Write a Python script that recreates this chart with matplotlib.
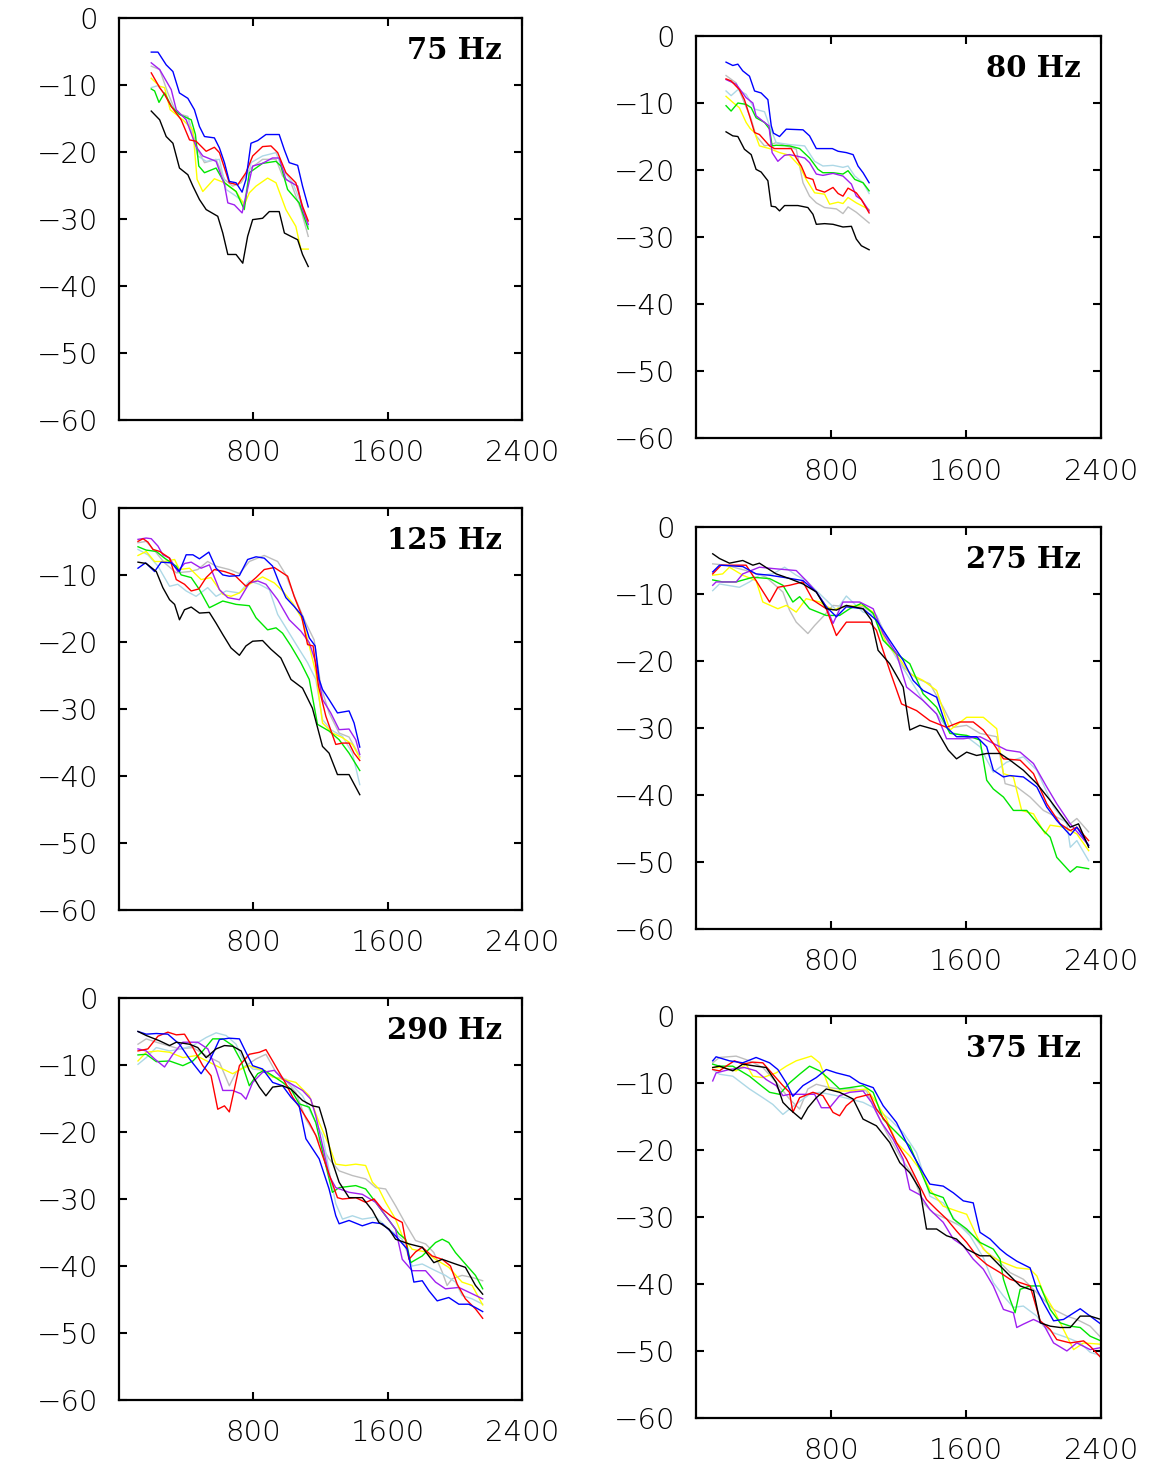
import matplotlib
matplotlib.use("Agg")
import matplotlib.pyplot as plt

# colour of each run
line_colors = {
    "gray": "#bebebe",
    "lightblue": "#add8e6",
    "yellow": "#ffff00",
    "green": "#00e600",
    "purple": "#a020f0",
    "red": "#ff0000",
    "blue": "#0000ff",
    "black": "#000000",
}

# each panel: colour -> (frequency values, level in dB)
hz75 = {
    "blue": ([192, 232, 281, 321, 360, 410, 449, 479, 509, 568, 598, 628, 657, 697, 733, 756, 786, 826, 875, 954, 985, 1014, 1064, 1093, 1127],
             [-5.1, -5.1, -7.0, -8.0, -11.2, -12.0, -13.7, -16.2, -17.7, -17.9, -19.4, -21.6, -24.4, -24.6, -26.0, -24.1, -18.7, -18.3, -17.4, -17.4, -19.7, -21.6, -22.0, -25.1, -28.2]),
    "red": ([192, 242, 271, 311, 370, 420, 459, 519, 568, 598, 657, 707, 756, 796, 855, 905, 945, 994, 1053, 1093, 1127],
            [-8.2, -10.4, -11.4, -13.2, -15.2, -18.2, -18.4, -19.9, -19.3, -20.1, -24.6, -24.9, -23.1, -20.6, -19.2, -19.1, -20.1, -23.1, -24.6, -28.1, -30.3]),
    "purple": ([192, 242, 311, 341, 400, 459, 499, 578, 628, 648, 687, 733, 756, 796, 855, 914, 954, 994, 1064, 1093, 1127],
               [-6.7, -7.7, -10.7, -13.7, -15.2, -19.2, -20.6, -21.4, -24.9, -27.6, -27.9, -29.1, -26.6, -22.1, -21.7, -20.9, -20.9, -24.1, -25.1, -28.6, -30.8]),
    "green": ([192, 212, 238, 271, 311, 360, 430, 455, 475, 509, 578, 628, 697, 746, 776, 855, 935, 964, 1004, 1073, 1127],
              [-10.6, -10.9, -12.6, -11.2, -13.2, -14.4, -15.2, -17.4, -22.1, -23.1, -22.4, -24.6, -25.9, -28.6, -23.1, -21.7, -21.4, -22.1, -25.6, -27.6, -31.5]),
    "yellow": ([192, 242, 271, 305, 380, 440, 465, 499, 568, 628, 697, 746, 776, 816, 885, 935, 994, 1053, 1083, 1127],
               [-9.0, -10.2, -10.4, -13.7, -15.2, -16.7, -24.1, -25.9, -24.0, -24.6, -25.9, -27.9, -26.1, -25.1, -23.9, -24.6, -28.6, -31.1, -34.5, -34.5]),
    "gray": ([192, 242, 291, 341, 410, 469, 509, 578, 628, 677, 727, 776, 855, 935, 974, 1024, 1083, 1127],
             [-7.2, -7.7, -11.2, -14.2, -14.7, -19.7, -21.6, -21.1, -24.1, -25.1, -24.6, -22.6, -21.1, -21.1, -23.6, -24.6, -28.6, -32.6]),
    "lightblue": ([192, 232, 281, 341, 410, 469, 519, 598, 638, 697, 746, 786, 855, 935, 974, 1034, 1083, 1127],
                  [-10.4, -10.1, -11.7, -14.2, -14.9, -20.6, -21.4, -21.1, -25.6, -26.6, -27.6, -21.6, -20.6, -20.1, -22.6, -24.6, -27.6, -31.1]),
    "black": ([192, 242, 281, 321, 360, 410, 440, 479, 519, 588, 618, 648, 697, 737, 766, 796, 855, 895, 954, 985, 1024, 1064, 1093, 1127],
              [-13.9, -15.2, -17.7, -18.7, -22.4, -23.4, -25.1, -27.1, -28.6, -29.6, -32.1, -35.3, -35.3, -36.6, -32.6, -30.1, -29.9, -28.9, -28.9, -32.1, -32.6, -33.1, -35.3, -37.1]),
}

hz80 = {
    "blue": ([178, 218, 248, 277, 317, 347, 386, 426, 446, 459, 495, 535, 634, 673, 713, 772, 808, 842, 891, 931, 960, 990, 1026],
             [-3.9, -4.4, -4.2, -5.2, -6.0, -8.2, -8.5, -9.5, -13.4, -14.5, -15.0, -13.9, -14.0, -14.9, -16.8, -16.8, -16.8, -17.2, -17.4, -17.7, -19.4, -20.4, -21.9]),
    "red": ([178, 208, 257, 287, 317, 347, 376, 436, 465, 564, 594, 624, 653, 693, 713, 762, 812, 842, 871, 901, 950, 980, 1026],
            [-6.4, -6.7, -8.0, -9.5, -11.9, -14.4, -14.7, -16.4, -16.8, -16.8, -18.2, -19.4, -21.1, -21.4, -22.9, -23.3, -22.6, -23.5, -23.9, -22.7, -23.4, -24.4, -26.4]),
    "purple": ([178, 238, 297, 337, 356, 396, 432, 451, 485, 525, 554, 594, 644, 673, 713, 752, 812, 871, 921, 950, 980, 1026],
               [-6.5, -7.2, -9.2, -10.0, -11.9, -12.7, -13.4, -17.4, -18.7, -17.8, -17.7, -17.9, -18.2, -18.9, -20.6, -20.8, -20.5, -20.9, -22.1, -23.9, -24.4, -26.1]),
    "green": ([178, 208, 248, 297, 327, 356, 406, 436, 451, 475, 554, 614, 673, 723, 752, 812, 871, 901, 941, 990, 1026],
              [-10.4, -11.2, -10.0, -10.2, -10.7, -12.2, -12.9, -13.9, -16.4, -16.3, -16.4, -16.8, -18.2, -19.9, -20.4, -20.4, -20.6, -20.1, -21.4, -21.9, -23.1]),
    "yellow": ([178, 218, 257, 297, 321, 347, 376, 436, 495, 554, 614, 653, 703, 762, 792, 842, 871, 901, 950, 1026],
               [-9.0, -9.9, -10.7, -12.9, -13.8, -14.4, -16.4, -16.8, -17.4, -17.8, -19.4, -21.4, -23.4, -23.6, -25.1, -24.8, -25.0, -24.1, -24.9, -25.9]),
    "gray": ([178, 238, 287, 327, 356, 406, 446, 475, 535, 594, 634, 673, 713, 762, 832, 871, 901, 950, 1026],
             [-5.9, -7.0, -10.0, -12.4, -14.9, -16.4, -16.2, -15.9, -16.4, -16.9, -21.9, -23.9, -24.9, -25.6, -25.8, -26.5, -25.5, -26.3, -27.9]),
    "lightblue": ([178, 208, 248, 297, 347, 406, 436, 475, 554, 644, 703, 752, 812, 871, 901, 941, 990, 1026],
                  [-8.2, -8.9, -8.0, -8.7, -10.9, -11.3, -13.4, -15.9, -16.2, -16.4, -18.7, -19.4, -19.3, -19.6, -19.4, -20.9, -21.9, -23.5]),
    "black": ([178, 218, 248, 287, 327, 356, 386, 426, 446, 471, 495, 525, 604, 663, 693, 713, 762, 812, 871, 921, 950, 980, 1026],
              [-14.3, -14.9, -15.0, -16.9, -17.7, -19.9, -20.3, -21.6, -25.4, -25.5, -26.1, -25.3, -25.3, -25.6, -26.6, -28.1, -28.0, -28.1, -28.5, -28.4, -30.3, -31.3, -31.9]),
}

hz125 = {
    "blue": ([113, 158, 212, 251, 311, 360, 400, 440, 479, 535, 578, 618, 657, 717, 766, 816, 865, 915, 954, 994, 1043, 1093, 1133, 1168, 1192, 1212, 1251, 1301, 1370, 1400, 1434],
             [-9.0, -8.2, -9.5, -8.1, -8.2, -9.5, -7.0, -7.0, -7.6, -6.6, -9.0, -10.0, -10.2, -10.1, -7.7, -7.3, -7.5, -8.7, -11.2, -13.4, -14.7, -16.2, -19.4, -20.6, -25.6, -27.1, -28.6, -30.6, -30.3, -32.1, -35.7]),
    "red": ([113, 143, 172, 202, 242, 301, 341, 390, 430, 475, 519, 568, 628, 687, 756, 816, 865, 925, 1004, 1043, 1083, 1123, 1156, 1188, 1232, 1291, 1331, 1370, 1400, 1434],
            [-5.0, -4.6, -5.1, -6.2, -6.5, -7.5, -10.7, -11.4, -12.4, -12.1, -10.4, -9.2, -9.5, -10.0, -11.7, -10.4, -9.2, -8.9, -10.2, -13.2, -15.7, -20.4, -20.6, -26.6, -31.1, -35.3, -35.1, -35.1, -36.6, -37.7]),
    "purple": ([113, 162, 192, 232, 261, 301, 350, 390, 430, 489, 538, 598, 648, 717, 776, 826, 875, 945, 1014, 1083, 1133, 1172, 1212, 1261, 1311, 1370, 1410, 1434],
               [-4.7, -4.5, -4.6, -5.7, -7.0, -7.5, -9.5, -8.3, -8.1, -9.0, -8.5, -12.2, -13.4, -13.7, -11.2, -10.9, -11.4, -13.7, -16.7, -18.4, -20.1, -23.1, -28.6, -30.6, -33.1, -33.0, -34.6, -36.8]),
    "green": ([113, 162, 222, 271, 341, 370, 430, 479, 538, 618, 697, 776, 816, 885, 935, 974, 1024, 1083, 1133, 1182, 1251, 1311, 1370, 1434],
              [-5.8, -6.3, -6.5, -7.5, -8.7, -10.0, -10.4, -12.2, -14.9, -13.9, -14.4, -14.6, -16.4, -18.2, -17.9, -18.7, -20.6, -23.1, -25.6, -32.3, -33.3, -34.6, -36.6, -39.2]),
    "yellow": ([113, 162, 212, 271, 331, 360, 420, 489, 548, 618, 667, 717, 776, 855, 925, 974, 1034, 1093, 1133, 1172, 1212, 1271, 1331, 1390, 1434],
               [-7.1, -6.5, -8.0, -8.0, -7.7, -9.2, -9.0, -10.7, -10.4, -12.9, -13.2, -12.7, -11.4, -10.3, -11.2, -12.4, -14.2, -16.7, -20.6, -24.6, -32.1, -33.6, -34.3, -35.3, -37.3]),
    "gray": ([113, 162, 222, 271, 341, 420, 469, 528, 578, 657, 717, 776, 865, 945, 994, 1053, 1113, 1162, 1202, 1251, 1311, 1370, 1434],
             [-5.2, -5.0, -6.7, -8.2, -9.7, -9.5, -9.2, -8.0, -8.7, -9.2, -9.8, -8.0, -7.1, -8.0, -10.0, -13.7, -17.2, -19.7, -26.6, -30.6, -33.6, -34.2, -37.1]),
    "lightblue": ([113, 172, 232, 301, 350, 400, 459, 528, 578, 638, 717, 776, 836, 895, 945, 1014, 1073, 1123, 1172, 1212, 1261, 1331, 1390, 1434],
                  [-6.2, -7.0, -8.7, -11.7, -11.4, -12.4, -13.2, -11.9, -13.2, -12.4, -12.7, -10.9, -11.4, -12.2, -15.9, -18.7, -21.1, -23.1, -25.6, -31.6, -33.1, -34.1, -36.6, -41.3]),
    "black": ([113, 162, 222, 261, 301, 331, 360, 390, 430, 479, 538, 578, 618, 667, 717, 756, 796, 855, 905, 964, 1024, 1093, 1152, 1212, 1251, 1301, 1370, 1434],
              [-8.1, -8.3, -9.5, -11.9, -13.7, -14.4, -16.7, -15.2, -14.8, -15.7, -15.6, -17.2, -18.9, -20.9, -22.0, -20.6, -19.9, -19.8, -21.1, -22.4, -25.6, -26.9, -29.9, -35.6, -36.6, -39.8, -39.8, -42.8]),
}

hz275 = {
    "blue": ([99, 139, 277, 356, 436, 515, 634, 713, 772, 832, 891, 990, 1069, 1148, 1228, 1287, 1346, 1426, 1485, 1544, 1663, 1723, 1762, 1822, 1861, 1940, 2020, 2079, 2138, 2218, 2257, 2327],
             [-6.7, -5.7, -5.9, -7.0, -7.2, -7.5, -8.0, -9.7, -11.9, -13.4, -11.9, -12.2, -13.9, -16.9, -19.9, -22.9, -24.4, -25.4, -29.9, -31.3, -31.3, -32.8, -36.3, -37.3, -37.1, -37.3, -38.8, -41.8, -43.8, -46.0, -44.8, -47.5]),
    "red": ([99, 149, 297, 356, 436, 485, 554, 634, 693, 772, 832, 891, 1030, 1069, 1148, 1218, 1307, 1386, 1485, 1564, 1643, 1703, 1762, 1822, 1921, 2000, 2079, 2158, 2218, 2257, 2327],
            [-7.0, -5.7, -5.7, -8.0, -11.2, -9.0, -8.7, -8.2, -10.9, -12.2, -16.2, -14.2, -14.2, -15.4, -21.4, -26.4, -27.4, -28.9, -29.9, -29.1, -29.1, -30.3, -32.3, -34.6, -34.8, -36.8, -41.3, -44.3, -45.3, -44.8, -46.8]),
    "purple": ([99, 119, 238, 277, 376, 455, 594, 653, 713, 772, 812, 871, 970, 1050, 1109, 1188, 1248, 1346, 1426, 1485, 1584, 1683, 1762, 1841, 1921, 2000, 2079, 2138, 2218, 2327],
               [-8.7, -8.2, -8.2, -7.0, -6.0, -6.2, -6.5, -8.0, -9.7, -11.9, -14.4, -11.2, -11.2, -12.2, -15.9, -18.9, -23.9, -25.9, -27.9, -31.6, -31.6, -31.3, -32.3, -33.3, -33.6, -35.3, -38.8, -41.3, -44.3, -47.5]),
    "green": ([99, 158, 238, 337, 436, 515, 574, 614, 673, 772, 851, 911, 980, 1050, 1109, 1188, 1267, 1346, 1426, 1505, 1604, 1683, 1723, 1762, 1822, 1881, 1960, 2059, 2099, 2138, 2218, 2257, 2327],
              [-7.9, -8.2, -8.2, -7.5, -7.7, -8.7, -11.2, -10.4, -12.2, -13.2, -13.2, -12.2, -11.4, -12.9, -16.9, -18.9, -20.4, -24.9, -26.9, -30.8, -31.1, -31.8, -37.8, -39.1, -40.3, -42.3, -42.3, -45.3, -46.3, -49.3, -51.5, -50.7, -51.0]),
    "yellow": ([99, 158, 198, 277, 356, 396, 485, 535, 594, 653, 733, 812, 871, 990, 1050, 1129, 1208, 1267, 1346, 1426, 1505, 1604, 1703, 1782, 1822, 1881, 1930, 2000, 2069, 2099, 2178, 2257, 2327],
               [-7.2, -7.0, -6.0, -7.2, -8.0, -11.2, -12.2, -11.7, -12.7, -10.7, -11.2, -12.4, -11.9, -11.7, -12.7, -17.4, -19.7, -21.9, -22.9, -24.4, -30.3, -28.4, -28.4, -30.1, -36.8, -37.3, -42.3, -42.8, -45.8, -44.5, -44.8, -45.8, -48.3]),
    "gray": ([99, 178, 297, 416, 515, 554, 594, 663, 703, 752, 812, 891, 990, 1069, 1148, 1228, 1307, 1386, 1465, 1525, 1604, 1683, 1782, 1832, 1901, 1980, 2059, 2138, 2218, 2257, 2327],
             [-5.5, -5.7, -6.5, -7.5, -9.7, -12.4, -14.2, -15.9, -14.7, -13.4, -11.7, -11.9, -11.9, -13.2, -17.4, -20.9, -22.6, -23.4, -26.9, -29.9, -29.6, -30.8, -31.3, -38.3, -38.8, -40.3, -42.3, -43.3, -44.3, -43.5, -45.5]),
    "lightblue": ([99, 139, 257, 317, 376, 455, 525, 594, 653, 713, 792, 832, 891, 990, 1069, 1148, 1248, 1346, 1426, 1505, 1604, 1683, 1762, 1841, 1940, 2020, 2119, 2198, 2218, 2257, 2327],
                  [-9.5, -8.5, -9.0, -8.2, -7.2, -7.0, -6.0, -7.2, -8.0, -9.5, -11.4, -12.4, -10.3, -12.7, -13.2, -17.9, -21.9, -25.9, -27.9, -30.6, -31.3, -32.8, -36.6, -35.1, -34.3, -36.3, -41.8, -44.3, -47.8, -46.8, -49.8]),
    "black": ([99, 139, 198, 277, 337, 376, 475, 554, 634, 713, 772, 832, 891, 990, 1040, 1079, 1148, 1228, 1267, 1327, 1426, 1495, 1544, 1604, 1663, 1723, 1802, 1861, 1940, 2020, 2099, 2158, 2218, 2267, 2327],
              [-4.0, -4.7, -5.4, -5.0, -5.7, -5.4, -7.0, -7.7, -8.5, -9.7, -12.2, -12.4, -11.7, -12.2, -13.9, -18.4, -20.4, -23.9, -30.3, -29.6, -30.3, -33.3, -34.6, -33.6, -34.1, -33.8, -33.8, -34.8, -36.3, -38.3, -40.8, -42.8, -44.8, -44.3, -47.8]),
}

hz290 = {
    "blue": ([113, 162, 222, 291, 360, 420, 489, 539, 598, 657, 717, 756, 796, 855, 915, 974, 1024, 1073, 1113, 1192, 1251, 1291, 1311, 1370, 1449, 1509, 1568, 1647, 1717, 1756, 1806, 1846, 1895, 1964, 2024, 2083, 2123, 2166],
             [-5.0, -5.4, -5.3, -5.4, -6.9, -9.1, -11.3, -9.4, -6.2, -6.0, -6.1, -8.1, -10.1, -10.6, -12.6, -13.1, -14.8, -16.1, -21.0, -24.0, -28.5, -32.5, -33.7, -33.2, -34.0, -33.5, -33.7, -35.5, -37.5, -42.4, -42.2, -43.7, -45.2, -44.7, -45.7, -45.7, -46.2, -46.8]),
    "red": ([113, 172, 232, 291, 341, 390, 440, 499, 548, 588, 628, 657, 687, 717, 776, 836, 875, 915, 954, 994, 1034, 1083, 1133, 1172, 1212, 1261, 1301, 1331, 1410, 1469, 1519, 1568, 1628, 1687, 1727, 1766, 1806, 1865, 1925, 1974, 2014, 2063, 2123, 2166],
            [-7.9, -7.6, -5.7, -5.1, -5.5, -5.4, -7.4, -10.1, -11.6, -16.6, -16.1, -17.0, -13.6, -10.1, -8.4, -8.1, -7.7, -9.4, -11.1, -12.8, -14.8, -16.6, -18.6, -20.5, -23.5, -27.0, -29.8, -30.0, -29.8, -30.5, -30.0, -31.5, -32.7, -33.5, -39.0, -37.9, -37.2, -38.5, -39.0, -40.0, -42.7, -44.9, -46.4, -47.8]),
    "purple": ([113, 162, 212, 271, 321, 380, 469, 529, 578, 618, 677, 727, 756, 796, 855, 925, 974, 1024, 1093, 1142, 1172, 1212, 1251, 1291, 1370, 1449, 1529, 1588, 1647, 1687, 1746, 1826, 1885, 1944, 2024, 2083, 2166],
               [-7.6, -7.9, -9.1, -10.3, -8.4, -6.6, -6.6, -7.6, -10.6, -13.8, -13.8, -14.3, -15.1, -12.6, -11.1, -10.8, -12.1, -12.8, -13.8, -15.1, -17.6, -22.0, -26.5, -28.3, -29.0, -29.3, -30.5, -32.5, -34.5, -39.0, -40.7, -40.7, -42.4, -43.4, -43.2, -43.9, -44.9]),
    "green": ([113, 162, 222, 301, 380, 440, 499, 558, 618, 677, 727, 776, 826, 865, 915, 974, 1024, 1073, 1133, 1172, 1222, 1271, 1311, 1410, 1469, 1529, 1588, 1667, 1707, 1737, 1806, 1885, 1925, 1964, 2004, 2063, 2123, 2166],
              [-8.5, -8.4, -9.5, -9.4, -10.1, -9.4, -7.9, -6.1, -6.1, -7.1, -9.4, -13.1, -11.3, -10.8, -11.6, -12.6, -13.6, -15.8, -16.3, -18.6, -24.0, -29.0, -28.3, -28.0, -28.5, -30.5, -32.5, -35.2, -36.0, -39.5, -38.5, -36.5, -36.0, -36.5, -38.0, -39.7, -41.4, -43.4]),
    "yellow": ([113, 162, 232, 301, 380, 459, 539, 618, 677, 727, 776, 855, 915, 974, 1053, 1133, 1192, 1251, 1291, 1350, 1410, 1469, 1509, 1548, 1588, 1647, 1687, 1746, 1826, 1885, 1964, 2043, 2103, 2166],
               [-9.4, -8.1, -7.9, -8.1, -8.9, -8.6, -9.6, -10.6, -11.3, -10.6, -10.1, -10.8, -11.8, -12.1, -12.6, -14.6, -18.6, -22.0, -24.8, -25.0, -24.8, -25.0, -27.5, -28.5, -30.5, -33.0, -35.5, -37.5, -37.9, -39.0, -40.2, -42.4, -42.9, -45.8]),
    "gray": ([113, 162, 222, 291, 360, 440, 519, 598, 657, 697, 756, 816, 875, 935, 994, 1053, 1113, 1172, 1251, 1311, 1390, 1469, 1529, 1588, 1647, 1707, 1766, 1826, 1875, 1925, 1954, 1984, 2043, 2103, 2166],
             [-6.9, -6.1, -6.6, -7.1, -7.6, -7.4, -8.6, -9.6, -13.1, -11.1, -10.1, -9.1, -8.4, -11.1, -12.3, -14.1, -18.1, -20.5, -24.0, -25.8, -26.5, -27.0, -28.3, -28.5, -31.0, -33.7, -36.2, -36.7, -38.0, -40.9, -42.9, -41.9, -41.4, -41.7, -42.2]),
    "lightblue": ([113, 162, 222, 301, 370, 440, 519, 578, 638, 697, 737, 796, 855, 915, 994, 1034, 1093, 1152, 1212, 1261, 1291, 1331, 1390, 1449, 1529, 1608, 1687, 1746, 1806, 1885, 1944, 2004, 2043, 2103, 2166],
                  [-9.9, -8.9, -7.4, -7.9, -7.6, -7.1, -5.9, -5.2, -5.6, -6.9, -9.1, -10.6, -10.8, -11.8, -12.1, -13.1, -14.6, -17.6, -20.5, -27.0, -30.7, -33.0, -32.5, -33.0, -32.7, -34.5, -36.0, -40.0, -39.7, -40.7, -41.4, -42.4, -44.4, -44.9, -45.7]),
    "black": ([113, 162, 242, 301, 341, 420, 469, 519, 578, 628, 677, 727, 776, 836, 875, 915, 974, 1024, 1093, 1152, 1192, 1232, 1271, 1311, 1370, 1449, 1509, 1548, 1608, 1647, 1727, 1806, 1875, 1925, 2004, 2063, 2123, 2166],
              [-5.0, -5.6, -6.4, -7.1, -6.6, -6.9, -7.4, -8.9, -7.6, -7.1, -7.2, -7.9, -10.8, -13.3, -14.6, -13.3, -13.1, -13.6, -15.3, -16.1, -16.3, -19.6, -24.5, -27.5, -29.8, -29.8, -31.7, -33.5, -34.5, -36.0, -36.7, -37.2, -39.5, -39.0, -39.7, -40.2, -42.9, -44.2]),
}

hz375 = {
    "blue": ([99, 119, 198, 277, 356, 436, 485, 535, 574, 634, 713, 772, 832, 911, 970, 1050, 1109, 1188, 1267, 1346, 1386, 1465, 1525, 1584, 1643, 1683, 1743, 1802, 1841, 1901, 1980, 2020, 2059, 2119, 2178, 2277, 2336, 2400],
             [-6.7, -6.1, -6.7, -7.0, -6.2, -7.0, -8.0, -10.0, -12.0, -10.4, -9.2, -8.0, -8.5, -9.0, -10.0, -10.7, -13.4, -15.9, -19.9, -23.4, -25.1, -25.4, -26.4, -27.6, -27.9, -32.3, -33.3, -34.8, -35.6, -36.6, -37.6, -40.8, -42.8, -45.5, -45.3, -43.7, -44.8, -46.0]),
    "red": ([99, 139, 178, 228, 277, 337, 396, 455, 515, 554, 574, 614, 693, 752, 812, 851, 891, 950, 1030, 1069, 1129, 1188, 1248, 1307, 1366, 1426, 1485, 1544, 1604, 1663, 1723, 1802, 1861, 1921, 1980, 2040, 2099, 2138, 2218, 2297, 2336, 2400],
            [-8.0, -8.2, -7.5, -6.7, -7.2, -6.9, -7.0, -8.7, -10.4, -11.4, -14.4, -12.2, -11.4, -11.9, -14.4, -14.9, -13.4, -12.2, -11.7, -13.9, -15.9, -18.9, -21.4, -24.4, -27.4, -28.9, -30.3, -32.1, -33.8, -35.8, -37.1, -38.3, -39.3, -39.8, -40.3, -45.5, -46.8, -48.3, -48.8, -48.5, -49.3, -51.0]),
    "purple": ([99, 119, 198, 287, 356, 416, 475, 515, 554, 634, 703, 743, 792, 851, 911, 990, 1040, 1099, 1168, 1228, 1267, 1327, 1386, 1465, 1525, 1584, 1643, 1703, 1762, 1822, 1881, 1901, 1940, 2000, 2059, 2119, 2198, 2257, 2336, 2400],
               [-9.7, -8.5, -8.0, -7.7, -8.2, -9.5, -10.4, -11.9, -11.7, -11.7, -11.7, -13.7, -13.7, -11.9, -11.4, -11.2, -12.9, -15.9, -18.4, -21.4, -25.9, -26.7, -28.9, -30.8, -33.3, -34.3, -36.3, -37.8, -40.3, -43.8, -44.3, -46.5, -46.0, -45.3, -46.0, -48.8, -50.0, -48.8, -49.8, -49.5]),
    "green": ([99, 139, 218, 317, 366, 436, 495, 554, 614, 673, 733, 792, 851, 911, 990, 1050, 1109, 1188, 1267, 1327, 1386, 1465, 1525, 1604, 1683, 1762, 1802, 1822, 1861, 1891, 1921, 1980, 2040, 2099, 2158, 2218, 2277, 2336, 2400],
              [-7.2, -7.5, -7.5, -9.0, -10.0, -11.4, -11.7, -10.0, -8.7, -7.5, -8.2, -9.5, -10.9, -10.7, -10.4, -11.4, -15.4, -17.4, -19.4, -22.9, -26.4, -27.1, -30.3, -31.8, -33.8, -34.8, -36.3, -39.3, -42.3, -44.3, -40.8, -40.3, -40.3, -43.8, -45.8, -46.3, -46.5, -47.8, -48.5]),
    "yellow": ([99, 158, 238, 297, 337, 396, 475, 535, 594, 683, 733, 792, 832, 911, 1010, 1069, 1129, 1188, 1267, 1327, 1386, 1465, 1544, 1604, 1663, 1703, 1762, 1822, 1901, 1980, 2020, 2059, 2119, 2178, 2238, 2297, 2400],
               [-7.7, -7.7, -8.2, -7.2, -9.0, -9.2, -8.5, -7.5, -6.7, -6.0, -7.0, -10.9, -11.2, -11.2, -10.9, -12.9, -15.4, -18.9, -20.9, -22.9, -25.9, -28.4, -29.1, -29.6, -32.8, -34.8, -36.1, -36.8, -37.6, -37.8, -38.8, -41.3, -43.8, -46.8, -49.8, -48.8, -49.0]),
    "gray": ([99, 139, 238, 317, 396, 475, 554, 614, 663, 713, 792, 851, 931, 1010, 1069, 1129, 1208, 1287, 1346, 1406, 1485, 1564, 1643, 1723, 1782, 1861, 1940, 2000, 2059, 2119, 2198, 2257, 2336, 2400],
             [-7.0, -6.2, -6.0, -6.7, -7.7, -9.9, -12.4, -13.9, -10.9, -10.2, -10.7, -10.9, -10.9, -11.2, -14.4, -17.4, -20.9, -23.9, -27.9, -29.4, -30.3, -31.3, -32.8, -35.3, -36.3, -38.3, -39.3, -40.8, -42.3, -43.8, -44.8, -45.3, -46.3, -48.0]),
    "lightblue": ([99, 139, 218, 317, 396, 455, 515, 554, 673, 733, 832, 911, 990, 1069, 1148, 1228, 1307, 1346, 1386, 1465, 1544, 1624, 1703, 1762, 1822, 1881, 1940, 2020, 2059, 2119, 2198, 2277, 2336, 2400],
                  [-8.0, -8.7, -9.0, -10.9, -12.2, -13.2, -14.7, -13.9, -11.7, -11.4, -11.9, -12.4, -12.9, -13.9, -15.4, -17.4, -20.4, -23.4, -26.9, -27.9, -30.8, -32.8, -36.1, -39.8, -41.8, -43.5, -43.3, -44.8, -46.3, -47.3, -48.0, -48.8, -50.2, -50.7]),
    "black": ([99, 139, 218, 277, 356, 416, 475, 515, 554, 624, 663, 713, 772, 851, 931, 990, 1069, 1148, 1208, 1267, 1327, 1366, 1426, 1485, 1544, 1604, 1683, 1743, 1841, 1921, 2000, 2040, 2099, 2158, 2218, 2277, 2336, 2400],
              [-7.7, -7.5, -8.2, -7.2, -7.5, -7.7, -9.9, -12.9, -13.9, -15.4, -13.7, -12.2, -10.9, -11.4, -12.4, -15.4, -16.4, -18.9, -21.9, -23.4, -25.9, -31.8, -31.8, -32.8, -33.3, -34.8, -35.8, -35.8, -38.3, -40.3, -41.0, -45.8, -46.3, -46.5, -46.5, -44.8, -44.8, -45.3]),
}

panel_titles = ["75 Hz", "80 Hz", "125 Hz", "275 Hz", "290 Hz", "375 Hz"]
panel_data = [hz75, hz80, hz125, hz275, hz290, hz375]
x_ticks = [800, 1600, 2400]
y_ticks = [0, -10, -20, -30, -40, -50, -60]

# axes rectangles in figure fractions (left column sits a bit higher)
rects = [
    [0.1019, 0.7143, 0.345, 0.2735],
    [0.5959, 0.7020, 0.3467, 0.2735],
    [0.1019, 0.3810, 0.345, 0.2735],
    [0.5959, 0.3680, 0.3467, 0.2735],
    [0.1019, 0.0476, 0.345, 0.2735],
    [0.5959, 0.0354, 0.3467, 0.2735],
]

draw_order = ["gray", "lightblue", "yellow", "green", "purple", "red", "blue", "black"]

fig = plt.figure(figsize=(11.68, 14.7), dpi=100)

for title, data, rect in zip(panel_titles, panel_data, rects):
    ax = fig.add_axes(rect)
    for name in draw_order:
        xs, ys = data[name]
        ax.plot(xs, ys, color=line_colors[name], lw=1.0)
    ax.set_xlim(0, 2400)
    ax.set_ylim(-60, 0)
    ax.set_xticks(x_ticks)
    ax.set_yticks(y_ticks)
    ax.tick_params(direction="in", length=6, width=1.5, top=True, right=True,
                   labelsize=21, colors="black")
    ax.tick_params(axis="y", pad=15)
    ax.tick_params(axis="x", pad=14)
    for lab in ax.get_xticklabels() + ax.get_yticklabels():
        lab.set_fontfamily("DejaVu Sans")
        lab.set_fontweight("light")
    for sp in ax.spines.values():
        sp.set_linewidth(1.6)
    ax.text(0.95, 0.955, title, transform=ax.transAxes, ha="right", va="top",
            fontsize=21, fontweight="bold", family="DejaVu Serif")

fig.savefig("out.png", dpi=100)
